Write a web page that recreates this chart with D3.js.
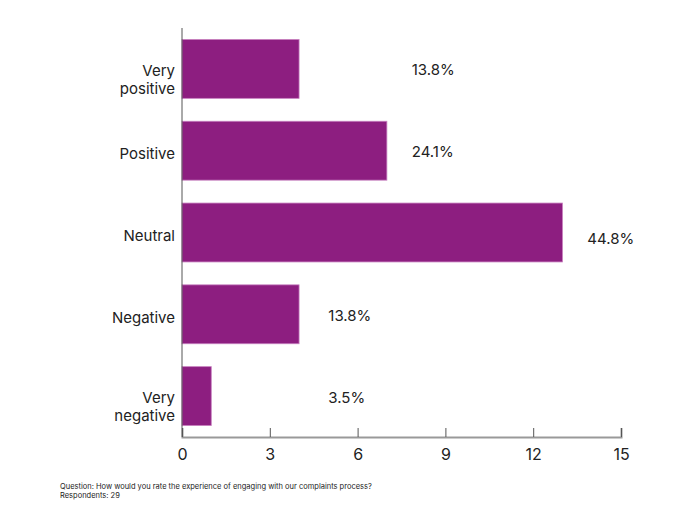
<!DOCTYPE html>
<html>
<head>
<meta charset="utf-8">
<script src="https://cdn.jsdelivr.net/npm/d3@7"></script>
<style>
  body { margin: 0; background: #fff; }
  svg { display: block; }
  text { font-family: Inter, "Open Sans", sans-serif; fill: #222; }
</style>
</head>
<body>
<svg id="chart" width="700" height="525"></svg>
<script>
// ---- data ----
const categories = [["Very", "positive"], ["Positive"], ["Neutral"], ["Negative"], ["Very", "negative"]];
const counts = [4, 7, 13, 4, 1];
const percentLabels = ["13.8%", "24.1%", "44.8%", "13.8%", "3.5%"];
const labelAt = [7.85, 7.85, 13.85, 5.0, 5.0]; // where each percentage label starts, in axis units
const xTicks = [0, 3, 6, 9, 12, 15];
const footnotes = ["Question: How would you rate the experience of engaging with our complaints process?", "Respondents: 29"];

// ---- layout ----
const svg = d3.select("#chart");
const mLeft = 182, mRight = 621, mTop = 28, mBottom = 437;
const keys = categories.map(c => c.join(" "));

const x = d3.scaleLinear().domain([0, 15]).range([mLeft, mRight]);
const y = d3.scaleBand().domain(keys).range([mTop, mBottom]).paddingInner(0.28).paddingOuter(0.14);

// bars
svg.append("g").selectAll("rect")
  .data(counts)
  .join("rect")
  .attr("x", x(0))
  .attr("y", (d, i) => y(keys[i]))
  .attr("width", d => x(d) - x(0))
  .attr("height", y.bandwidth())
  .attr("fill", "#8d1e80")
  .attr("stroke", "#c77fbf")
  .attr("stroke-width", 0.8);

// percentage labels
svg.append("g").selectAll("text")
  .data(percentLabels)
  .join("text")
  .attr("x", (d, i) => x(labelAt[i]))
  .attr("y", (d, i) => y(keys[i]) + y.bandwidth() / 2 + (i === 2 ? 6 : 1))
  .attr("dy", "0.36em")
  .attr("font-size", 15)
  .text(d => d);

// y axis line
svg.append("line")
  .attr("x1", x(0)).attr("x2", x(0))
  .attr("y1", mTop).attr("y2", mBottom)
  .attr("stroke", "#555").attr("stroke-width", 1);

// category labels
const cat = svg.append("g").selectAll("text")
  .data(categories)
  .join("text")
  .attr("text-anchor", "end")
  .attr("font-size", 15)
  .attr("y", (d, i) => y(keys[i]) + y.bandwidth() / 2);
cat.each(function(lines) {
  const t = d3.select(this);
  lines.forEach((ln, j) => {
    t.append("tspan")
      .attr("x", 175)
      .attr("dy", j === 0 ? (lines.length > 1 ? "0.45em" : "0.58em") : "1.2em")
      .text(ln);
  });
});

// x axis
const xAxis = d3.axisBottom(x).tickValues(xTicks).tickSize(-9).tickPadding(12).tickFormat(d3.format("d"));
const gx = svg.append("g").attr("transform", `translate(0,${mBottom})`).call(xAxis);
gx.select(".domain").attr("stroke", "#999").attr("stroke-width", 2);
gx.selectAll(".tick line").attr("stroke", "#555");
gx.selectAll(".tick text").attr("font-size", 16).attr("fill", "#222")
  .attr("font-family", 'Inter, "Open Sans", sans-serif');

// footnotes
svg.append("g").selectAll("text")
  .data(footnotes)
  .join("text")
  .attr("x", 60)
  .attr("y", (d, i) => 489 + i * 8.5)
  .attr("font-size", 7.5)
  .attr("fill", "#333")
  .text(d => d);
</script>
</body>
</html>
